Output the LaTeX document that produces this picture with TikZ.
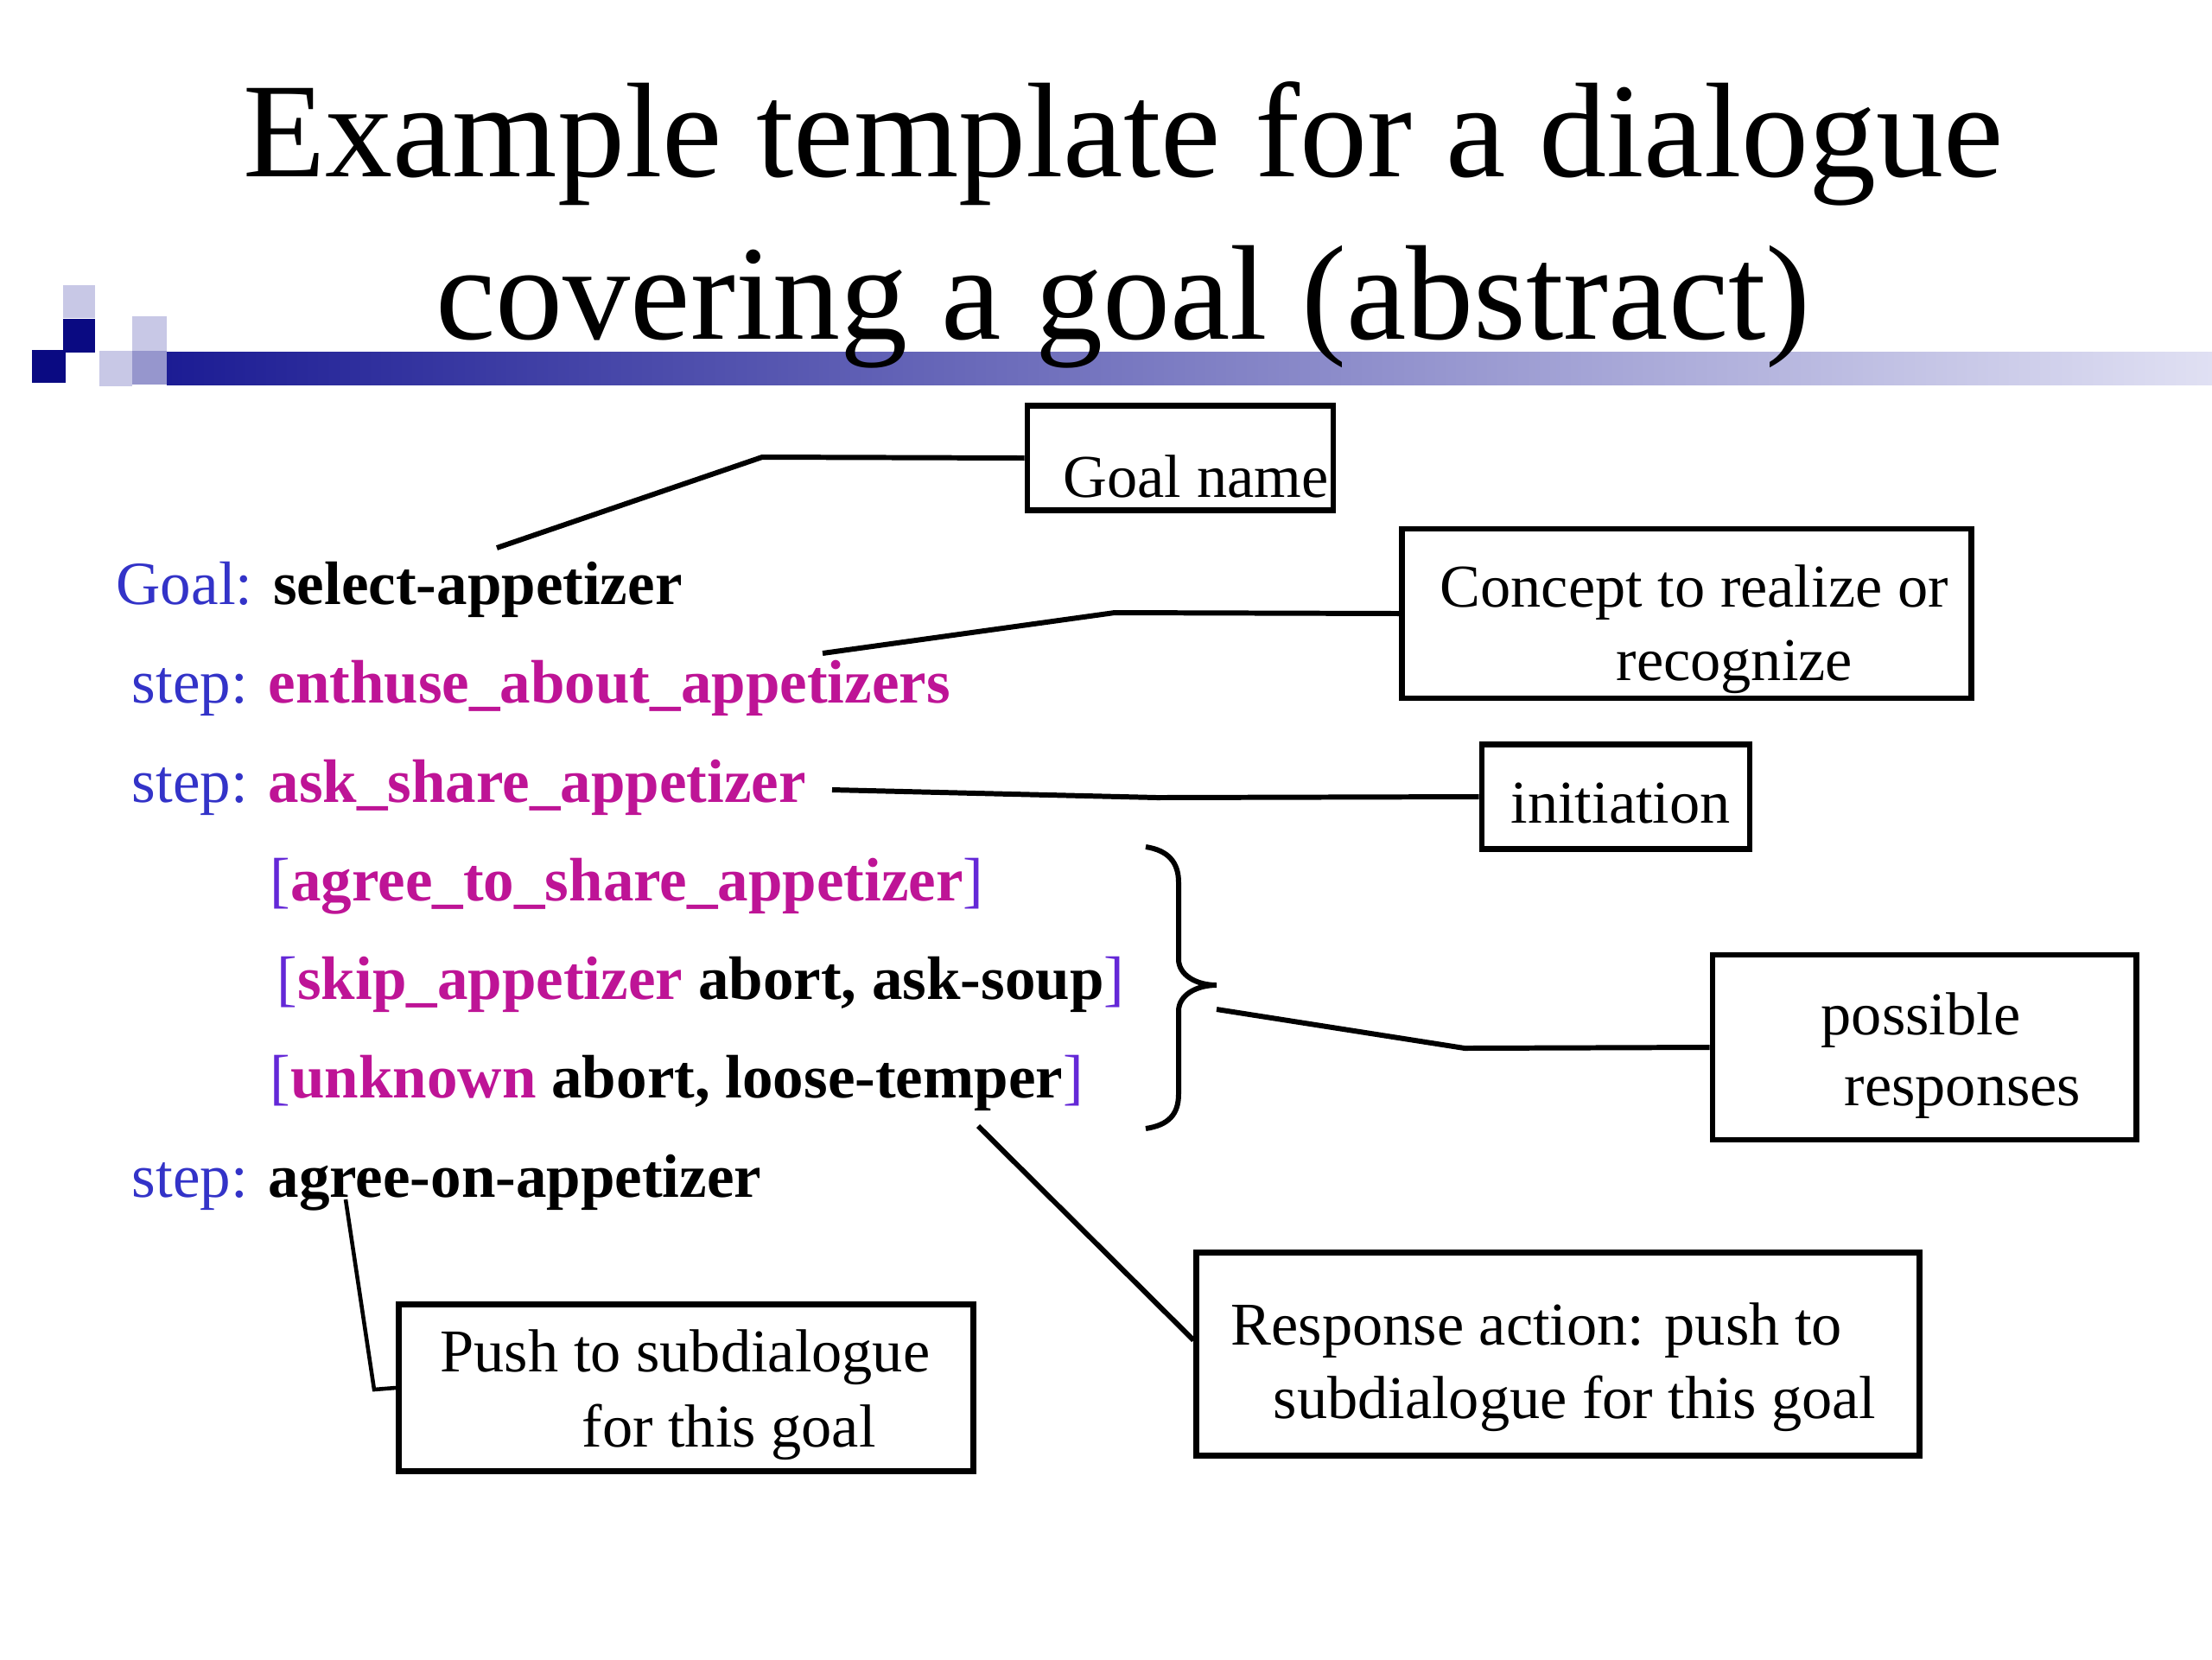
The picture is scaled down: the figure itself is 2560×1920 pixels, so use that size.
\documentclass[tikz,border=0pt]{standalone}
\usepackage{fontspec}
\setmainfont{Liberation Serif}
\definecolor{sqlight}{RGB}{200,200,230}
\definecolor{sqdark}{RGB}{10,10,130}
\definecolor{sqmed}{RGB}{150,150,205}
\definecolor{barleft}{RGB}{28,28,148}
\definecolor{barright}{RGB}{224,224,243}
\definecolor{kwblue}{RGB}{51,51,200}
\definecolor{idmag}{RGB}{190,20,150}
\definecolor{brk}{RGB}{100,40,215}
\newcommand{\kw}[1]{\textcolor{kwblue}{#1}}
\newcommand{\idm}[1]{\textcolor{idmag}{\textbf{#1}}}
\newcommand{\bk}[1]{\textcolor{brk}{#1}}
\begin{document}
\begin{tikzpicture}[x=0.01cm,y=-0.01cm,
  boxnode/.style={draw, line width=1.9pt, inner sep=0pt},
  conn/.style={line width=1.7pt, line join=miter},
  titletxt/.style={anchor=base, inner sep=0pt, font=\fontsize{44.4}{53}\selectfont},
  bodytxt/.style={anchor=base west, inner sep=0pt, font=\fontsize{20.2}{24}\selectfont},
  boxtxt/.style={anchor=base west, inner sep=0pt, font=\fontsize{20}{24}\selectfont}]
\useasboundingbox (0,0) rectangle (2560,1920);
\fill[white] (0,0) rectangle (2560,1920);
% header decoration
\shade[left color=barleft, right color=barright] (193,407) rectangle (2560,445);
\fill[sqlight] (73,330) rectangle (110,368);
\fill[sqdark] (73,369) rectangle (110,408);
\fill[sqdark] (37,405) rectangle (76,443);
\fill[sqlight] (115,406) rectangle (153,447);
\fill[sqlight] (153,366) rectangle (193,406);
\fill[sqmed] (153,406) rectangle (193,445);
% title
\node[titletxt] (title1) at (1300,204) {Example template for a dialogue};
\node[titletxt] (title2) at (1300,392) {covering a goal (abstract)};
% body lines
\node[bodytxt] (l1) at (134,699) {\kw{Goal:} \textbf{select-appetizer}};
\node[bodytxt] (l2) at (152,813) {\kw{step:} \idm{enthuse\_about\_appetizers}};
\node[bodytxt] (l3) at (152,928) {\kw{step:} \idm{ask\_share\_appetizer}};
\node[bodytxt] (l4) at (312,1042) {\bk{[}\idm{agree\_to\_share\_appetizer}\bk{]}};
\node[bodytxt] (l5) at (320,1156) {\bk{[}\idm{skip\_appetizer} \textbf{abort, ask-soup}\bk{]}};
\node[bodytxt] (l6) at (312,1270) {\bk{[}\idm{unknown} \textbf{abort, loose-temper}\bk{]}};
\node[bodytxt] (l7) at (152,1385) {\kw{step:} \textbf{agree-on-appetizer}};
% boxes
\node[boxnode, minimum width=3.54cm, minimum height=1.21cm] (goalbox) at (1366,530) {};
\node[boxtxt] (goalboxt) at (1230,575) {Goal name};
\node[boxnode, minimum width=6.58cm, minimum height=1.96cm] (conceptbox) at (1952,710) {};
\node[boxtxt] (conceptt1) at (1666,702) {Concept to realize or};
\node[boxtxt] (conceptt2) at (1870,787) {recognize};
\node[boxnode, minimum width=3.10cm, minimum height=1.21cm] (initbox) at (1870,922) {};
\node[boxtxt] (initt) at (1748,952) {initiation};
\node[boxnode, minimum width=4.90cm, minimum height=2.14cm] (possbox) at (2227,1212) {};
\node[boxtxt] (posst1) at (2107,1197) {possible};
\node[boxtxt] (posst2) at (2134,1279) {responses};
\node[boxnode, minimum width=8.36cm, minimum height=2.35cm] (respbox) at (1803,1567) {};
\node[boxtxt] (respt1) at (1424,1556) {Response action: push to};
\node[boxtxt] (respt2) at (1473,1641) {subdialogue for this goal};
\node[boxnode, minimum width=6.65cm, minimum height=1.93cm] (pushbox) at (794,1606) {};
\node[boxtxt] (pusht1) at (509,1587) {Push to subdialogue};
\node[boxtxt] (pusht2) at (673,1674) {for this goal};
% brace
\draw[line width=1.7pt] (1326,980) .. controls (1352,984) and (1364,998) .. (1364,1021)
  -- (1364,1110) .. controls (1364,1128) and (1384,1140) .. (1408,1140)
  .. controls (1384,1140) and (1364,1152) .. (1364,1170)
  -- (1364,1266) .. controls (1364,1290) and (1352,1302) .. (1326,1306);
% connector coordinates
\coordinate (g0) at (575,634);
\coordinate (g1) at (882,529);
\coordinate (c0) at (952,756);
\coordinate (c1) at (1290,709);
\coordinate (i0) at (963,914);
\coordinate (i1) at (1339,923);
\coordinate (p0) at (1408,1168);
\coordinate (p1) at (1695,1213);
\coordinate (r0) at (1132,1303);
\coordinate (s0) at (400,1388);
\coordinate (s1) at (433,1608);
% connectors
\draw[conn] (g0) -- (g1) -- (goalbox.west);
\draw[conn] (c0) -- (c1) -- (conceptbox.west);
\draw[conn] (i0) -- (i1) -- (initbox.west);
\draw[conn] (p0) -- (p1) -- (possbox.west);
\draw[conn] (r0) -- ([yshift=0.16cm]respbox.west);
\draw[line width=1.3pt] (s0) -- (s1) -- (pushbox.west);
\end{tikzpicture}
\end{document}
